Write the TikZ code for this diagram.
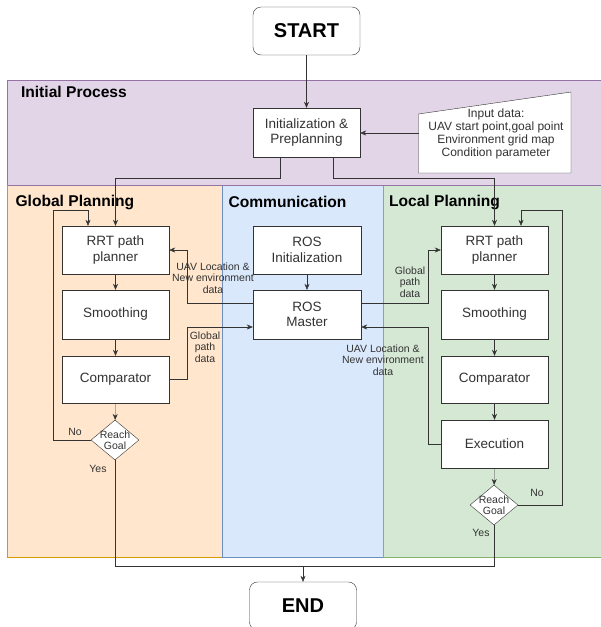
\documentclass[tikz,border=0pt]{standalone}
\usepackage{fontspec}
\setmainfont{Liberation Sans}
\usepackage{tikz}
\usetikzlibrary{shapes.geometric, arrows.meta, positioning, calc}
\definecolor{procpurple}{HTML}{E1D5E7}
\definecolor{procpurpleline}{HTML}{9673A6}
\definecolor{globorange}{HTML}{FFE6CC}
\definecolor{globorangeline}{HTML}{D79B00}
\definecolor{commblue}{HTML}{DAE8FC}
\definecolor{commblueline}{HTML}{6C8EBF}
\definecolor{locgreen}{HTML}{D5E8D4}
\definecolor{locgreenline}{HTML}{82B366}
\definecolor{inkgray}{HTML}{333333}

\begin{document}
\begin{tikzpicture}[
  x=1pt, y=-1pt,
  box/.style={draw=inkgray, fill=white, minimum width=107pt, minimum height=48pt, align=center, inner sep=2pt, text=inkgray, font=\fontsize{13.5}{15.5}\selectfont},
  term/.style={box, rounded corners=8pt, text=black, font=\fontsize{20}{24}\selectfont\bfseries},
  decision/.style={draw=inkgray, fill=white, diamond, minimum width=48pt, minimum height=40pt, inner sep=0pt},
  lanetitle/.style={anchor=west, font=\fontsize{15.6}{18}\selectfont\bfseries},
  lbl/.style={align=center, text=inkgray, font=\fontsize{10.5}{11.5}\selectfont},
  arr/.style={draw=inkgray, -{Stealth[length=6pt, width=5pt]}},
  wire/.style={draw=inkgray}
]
  \clip (0,0) rectangle (601,627);
  \fill[white] (0,0) rectangle (601,627);

  \draw[procpurpleline, fill=procpurple] (7.5,80) rectangle (610,185);
  \draw[globorangeline, fill=globorange] (7.5,185) rectangle (222,557);
  \draw[commblueline, fill=commblue] (222,185) rectangle (383,557);
  \draw[locgreenline, fill=locgreen] (383,185) rectangle (610,557);
  \draw[procpurpleline] (7.5,185) -- (610,185);

  \node[lanetitle] (tproc) at (17.5,92) {Initial Process};
  \node[lanetitle] (tglob) at (12,202) {Global Planning};
  \node[lanetitle] (tcomm) at (225,202) {Communication};
  \node[lanetitle] (tloc) at (385.5,202) {Local Planning};

  \node[term] (start) at (306.5,31) {START};
  \node[box, minimum height=49pt] (init) at (306.5,132.5) {Initialization \&\\Preplanning};

  \draw[wire, fill=white] (418.5,114) -- (571,92) -- (571,173) -- (418.5,173) -- cycle;
  \coordinate (inleft) at (418.5,133);
  \node[align=center, text=inkgray, font=\fontsize{12}{13}\selectfont] (input) at (496,134)
    {Input data:\\UAV start point,goal point\\Environment grid map\\Condition parameter};

  \node[box] (grrt) at (115.5,250) {RRT path\\planner};
  \node[box, minimum height=49pt] (gsmooth) at (115.5,314.5) {Smoothing};
  \node[box, minimum height=47pt] (gcomp) at (115.5,379.5) {Comparator};
  \node[decision, label={[lbl, font=\fontsize{10.5}{10.7}\selectfont]center:Reach\\Goal}] (gdec) at (115,440) {};

  \node[box, minimum width=108pt] (rosinit) at (307,250) {ROS\\Initialization};
  \node[box, minimum width=108pt, minimum height=49pt] (rosmaster) at (307,314.5) {ROS\\Master};

  \node[box] (lrrt) at (494.5,250) {RRT path\\planner};
  \node[box, minimum height=49pt] (lsmooth) at (494.5,314.5) {Smoothing};
  \node[box, minimum height=47pt] (lcomp) at (494.5,379.5) {Comparator};
  \node[box] (lexec) at (494.5,444) {Execution};
  \node[decision, label={[lbl, font=\fontsize{10.5}{10.7}\selectfont]center:Reach\\Goal}] (ldec) at (494,505) {};

  \node[term] (end) at (303,606) {END};

  \draw[arr] (start) -- (init);
  \draw[arr] (inleft) -- (inleft -| init.east);
  \draw[arr] ([xshift=-26.5pt]init.south) -- ++(0,21) -| (grrt.north);
  \draw[arr] ([xshift=27pt]init.south) -- ++(0,21) -| (lrrt.north);

  \draw[arr] (grrt) -- (gsmooth);
  \draw[arr] (gsmooth) -- (gcomp);
  \draw[arr] (gcomp) -- (gdec);
  \draw[arr] (gdec.west) -| (53,210) -| ([xshift=-27.5pt]grrt.north);

  \draw[arr] (rosinit) -- (rosmaster);
  \draw[arr] ([yshift=11.5pt]rosmaster.west) -- ++(-66,0) |- (grrt.east);
  \draw[arr] (gcomp.east) -- ++(18,0) |- ([yshift=-12.5pt]rosmaster.west);
  \draw[arr] ([yshift=11.5pt]rosmaster.east) -- ++(67,0) |- (lrrt.west);
  \draw[arr] (lexec.west) -- ++(-13,0) |- ([yshift=-12.5pt]rosmaster.east);

  \draw[arr] (lrrt) -- (lsmooth);
  \draw[arr] (lsmooth) -- (lcomp);
  \draw[arr] (lcomp) -- (lexec);
  \draw[arr] (lexec) -- (ldec);
  \draw[arr] (ldec.east) -| (562,210) -| ([xshift=26.5pt]lrrt.north);

  \coordinate (join) at (303,566);
  \draw[wire] (gdec.south) |- (join);
  \draw[wire] (ldec.south) |- (join);
  \draw[arr] (join) -- (end.north);

  \node[lbl] (gfeed) at (213,278) {UAV Location \&\\New environment\\data};
  \node[lbl] (gpath) at (205,347) {Global\\path\\data};
  \node[lbl] (lpath) at (410,282) {Global\\path\\data};
  \node[lbl] (lfeed) at (383,360) {UAV Location \&\\New environment\\data};
  \node[lbl] (gno) at (75,432) {No};
  \node[lbl] (gyes) at (98,469) {Yes};
  \node[lbl] (lno) at (537,493) {No};
  \node[lbl] (lyes) at (481,533) {Yes};
\end{tikzpicture}
\end{document}
